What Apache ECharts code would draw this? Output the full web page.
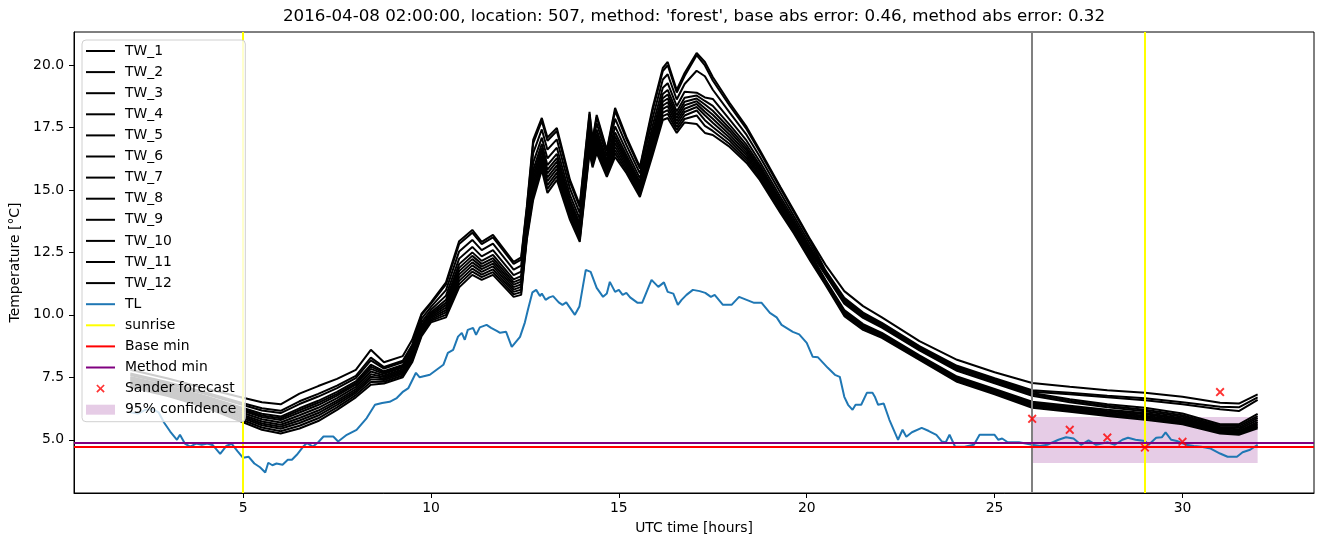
<!DOCTYPE html>
<html><head><meta charset="utf-8">
<script src="https://cdn.jsdelivr.net/npm/echarts@6/dist/echarts.min.js"></script>
<style>html,body{margin:0;padding:0;background:#fff}#c{width:1324px;height:547px}</style>
</head><body><div id="c"></div>
<script>
// ---------------- data ----------------
const titleText = "2016-04-08 02:00:00, location: 507, method: 'forest', base abs error: 0.46, method abs error: 0.32";
const xTicks = [5, 10, 15, 20, 25, 30];
const yTicks = [5, 7.5, 10, 12.5, 15, 17.5, 20];

const xTW = [2, 3, 4, 5, 5.5, 6, 6.5, 7, 7.5, 8,
 8.4, 8.75, 9.25, 9.5, 9.75, 10, 10.4, 10.75, 11.1, 11.35,
 11.65, 12.2, 12.4, 12.55, 12.72, 12.95, 13.1, 13.35, 13.7, 13.96,
 14.22, 14.3, 14.41, 14.68, 14.9, 15.2, 15.56, 15.9, 16.17, 16.3,
 16.54, 16.75, 17.07, 17.29, 17.5, 17.95, 18.4, 18.75, 19.3, 19.65,
 20.1, 20.5, 21, 21.5, 22, 23, 24, 25, 26, 27,
 28, 29, 30, 31, 31.5, 32];

const tw1 = [7.8, 7.45, 7.05, 6.68, 6.5, 6.42, 6.85, 7.15, 7.44, 7.8,
 8.6, 8.1, 8.35, 9.0, 10.05, 10.5, 11.3, 12.95, 13.4, 12.92,
 13.2, 12.12, 12.3, 14.32, 17.0, 17.88, 17.1, 17.48, 15.4, 14.4,
 18.12, 17.0, 18.0, 16.6, 18.28, 17.12, 15.92, 18.3, 19.88, 20.12,
 19.0, 19.68, 20.48, 20.12, 19.52, 18.48, 17.52, 16.6, 15.12, 14.2,
 13.0, 12.0, 10.95, 10.35, 9.9, 8.95, 8.2, 7.7, 7.27, 7.12,
 6.98, 6.88, 6.72, 6.48, 6.45, 6.82];
const tw2 = [7.65, 7.3, 6.89, 6.46, 6.26, 6.16, 6.54, 6.84, 7.17, 7.56,
 8.29, 7.91, 8.16, 8.8, 10.0, 10.45, 11.22, 12.84, 13.29, 12.83,
 13.1, 12.04, 12.21, 14.24, 16.86, 17.76, 16.97, 17.36, 15.3, 14.31,
 18.02, 16.93, 17.91, 16.54, 18.16, 17.03, 15.85, 18.19, 19.76, 19.99,
 18.9, 19.56, 20.39, 19.98, 19.38, 18.37, 17.43, 16.53, 15.06, 14.14,
 12.95, 11.78, 10.68, 10.09, 9.68, 8.75, 7.96, 7.46, 6.98, 6.88,
 6.76, 6.66, 6.5, 6.32, 6.3, 6.7];
const tw3 = [7.59, 7.24, 6.83, 6.39, 6.17, 6.07, 6.43, 6.73, 7.07, 7.47,
 8.18, 7.85, 8.1, 8.73, 9.85, 10.32, 10.99, 12.54, 13.0, 12.59,
 12.85, 11.81, 11.97, 14.03, 16.47, 17.42, 16.61, 17.02, 15.05, 14.07,
 17.76, 16.76, 17.67, 16.36, 17.85, 16.8, 15.66, 17.88, 19.42, 19.63,
 18.62, 19.24, 19.77, 19.55, 19.01, 18.09, 17.2, 16.34, 14.89, 13.98,
 12.81, 11.74, 10.62, 10.04, 9.63, 8.7, 7.91, 7.41, 6.92, 6.82,
 6.7, 6.58, 6.42, 6.22, 6.15, 6.6];
const tw4 = [7.51, 7.16, 6.74, 6.27, 6.04, 5.93, 6.26, 6.56, 6.92, 7.34,
 8.01, 7.74, 7.99, 8.62, 9.71, 10.2, 10.77, 12.25, 12.72, 12.34,
 12.59, 11.59, 11.73, 13.82, 16.09, 17.09, 16.26, 16.69, 14.79, 13.84,
 17.5, 16.58, 17.42, 16.19, 17.54, 16.57, 15.46, 17.58, 19.09, 19.27,
 18.35, 18.93, 18.89, 18.7, 18.64, 17.81, 16.97, 16.14, 14.72, 13.85,
 12.68, 11.69, 10.56, 9.98, 9.58, 8.66, 7.86, 7.36, 6.87, 6.62,
 6.42, 6.28, 6.05, 5.62, 5.62, 6.04];
const tw5 = [7.46, 7.11, 6.69, 6.21, 5.97, 5.86, 6.18, 6.48, 6.84, 7.27,
 7.93, 7.69, 7.94, 8.57, 9.6, 10.1, 10.6, 12.03, 12.5, 12.16,
 12.4, 11.42, 11.55, 13.66, 15.8, 16.84, 15.99, 16.44, 14.6, 13.66,
 17.31, 16.45, 17.24, 16.06, 17.3, 16.4, 15.32, 17.35, 18.84, 19.0,
 18.14, 18.69, 18.78, 18.56, 18.36, 17.6, 16.8, 16.0, 14.6, 13.74,
 12.58, 11.64, 10.5, 9.92, 9.53, 8.61, 7.8, 7.3, 6.82, 6.56,
 6.36, 6.2, 5.98, 5.56, 5.55, 5.95];
const tw6 = [7.42, 7.07, 6.65, 6.15, 5.91, 5.79, 6.09, 6.39, 6.77, 7.21,
 7.84, 7.64, 7.89, 8.51, 9.53, 10.04, 10.49, 11.88, 12.36, 12.04,
 12.27, 11.31, 11.43, 13.55, 15.61, 16.67, 15.81, 16.27, 14.47, 13.54,
 17.18, 16.36, 17.12, 15.97, 17.14, 16.28, 15.22, 17.2, 18.67, 18.82,
 18.0, 18.53, 18.66, 18.42, 18.17, 17.46, 16.68, 15.9, 14.52, 13.67,
 12.51, 11.6, 10.45, 9.88, 9.49, 8.58, 7.76, 7.26, 6.76, 6.5,
 6.3, 6.14, 5.92, 5.51, 5.48, 5.88];
const tw7 = [7.37, 7.02, 6.59, 6.07, 5.82, 5.69, 5.98, 6.28, 6.67, 7.12,
 7.73, 7.57, 7.82, 8.44, 9.47, 9.98, 10.39, 11.75, 12.23, 11.93,
 12.16, 11.21, 11.33, 13.46, 15.44, 16.53, 15.66, 16.13, 14.36, 13.44,
 17.07, 16.29, 17.01, 15.9, 17.01, 16.18, 15.14, 17.07, 18.53, 18.66,
 17.88, 18.39, 18.55, 18.27, 18.01, 17.34, 16.58, 15.82, 14.44, 13.6,
 12.45, 11.39, 10.19, 9.63, 9.28, 8.38, 7.53, 7.03, 6.52, 6.36,
 6.2, 6.07, 5.86, 5.46, 5.42, 5.8];
const tw8 = [7.31, 6.96, 6.53, 5.99, 5.73, 5.6, 5.87, 6.17, 6.57, 7.03,
 7.62, 7.51, 7.76, 8.37, 9.4, 9.92, 10.29, 11.62, 12.1, 11.83,
 12.05, 11.11, 11.22, 13.37, 15.27, 16.38, 15.5, 15.98, 14.25, 13.33,
 16.95, 16.21, 16.91, 15.82, 16.87, 16.08, 15.06, 16.93, 18.38, 18.51,
 17.76, 18.25, 18.44, 18.13, 17.85, 17.21, 16.48, 15.74, 14.37, 13.54,
 12.39, 11.35, 10.14, 9.58, 9.24, 8.34, 7.49, 6.99, 6.47, 6.31,
 6.15, 6.02, 5.81, 5.42, 5.36, 5.72];
const tw9 = [7.26, 6.91, 6.47, 5.93, 5.65, 5.52, 5.77, 6.07, 6.49, 6.95,
 7.52, 7.45, 7.7, 8.31, 9.34, 9.87, 10.19, 11.49, 11.98, 11.72,
 11.94, 11.01, 11.12, 13.28, 15.1, 16.24, 15.35, 15.84, 14.14, 13.23,
 16.84, 16.13, 16.8, 15.75, 16.73, 15.98, 14.97, 16.8, 18.24, 18.35,
 17.64, 18.12, 18.32, 17.99, 17.69, 17.09, 16.38, 15.65, 14.3, 13.47,
 12.33, 11.32, 10.1, 9.54, 9.2, 8.31, 7.45, 6.95, 6.42, 6.26,
 6.1, 5.96, 5.76, 5.38, 5.32, 5.65];
const tw10 = [7.21, 6.86, 6.42, 5.86, 5.58, 5.44, 5.67, 5.97, 6.4, 6.88,
 7.42, 7.39, 7.64, 8.24, 9.28, 9.81, 10.1, 11.36, 11.85, 11.61,
 11.82, 10.92, 11.01, 13.18, 14.94, 16.09, 15.19, 15.69, 14.02, 13.13,
 16.73, 16.05, 16.69, 15.67, 16.59, 15.88, 14.89, 16.67, 18.09, 18.19,
 17.52, 17.98, 18.18, 17.79, 17.52, 16.97, 16.28, 15.57, 14.23, 13.41,
 12.27, 11.29, 10.06, 9.5, 9.17, 8.28, 7.42, 6.92, 6.38, 6.22,
 6.05, 5.91, 5.71, 5.34, 5.28, 5.58];
const tw11 = [7.16, 6.81, 6.36, 5.78, 5.49, 5.34, 5.56, 5.86, 6.3, 6.79,
 7.31, 7.32, 7.57, 8.17, 9.21, 9.76, 10.0, 11.23, 11.73, 11.51,
 11.71, 10.82, 10.91, 13.09, 14.77, 15.95, 15.04, 15.55, 13.91, 13.02,
 16.61, 15.98, 16.59, 15.6, 16.46, 15.78, 14.8, 16.53, 17.95, 18.04,
 17.4, 17.84, 17.98, 17.56, 17.36, 16.84, 16.18, 15.48, 14.15, 13.34,
 12.21, 11.25, 10.01, 9.46, 9.13, 8.25, 7.37, 6.87, 6.33, 6.17,
 6.0, 5.86, 5.66, 5.3, 5.24, 5.52];
const tw12 = [7.1, 6.75, 6.3, 5.7, 5.4, 5.25, 5.45, 5.75, 6.2, 6.7,
 7.2, 7.25, 7.5, 8.1, 9.15, 9.7, 9.9, 11.1, 11.6, 11.4,
 11.6, 10.72, 10.8, 13.0, 14.6, 15.8, 14.88, 15.4, 13.8, 12.92,
 16.5, 15.9, 16.48, 15.52, 16.32, 15.68, 14.72, 16.4, 17.8, 17.88,
 17.28, 17.7, 17.64, 17.28, 17.2, 16.72, 16.08, 15.4, 14.08, 13.28,
 12.15, 11.2, 9.95, 9.4, 9.08, 8.2, 7.32, 6.82, 6.28, 6.12,
 5.95, 5.8, 5.62, 5.25, 5.2, 5.46];

const tlX = [2.0,2.2,2.4,2.6,2.75,2.9,3.06,3.24,3.32,3.45,
 3.59,3.75,3.9,4.05,4.2,4.39,4.55,4.7,4.85,5.0,
 5.15,5.3,5.45,5.59,5.67,5.78,5.89,6.05,6.19,6.3,
 6.43,6.6,6.7,6.86,7.0,7.14,7.4,7.53,7.76,8.02,
 8.29,8.51,8.7,8.9,9.09,9.26,9.4,9.6,9.7,9.97,
 10.15,10.33,10.45,10.59,10.72,10.82,10.9,10.98,11.12,11.2,
 11.3,11.48,11.6,11.75,11.84,12.0,12.15,12.37,12.5,12.58,
 12.7,12.8,12.9,12.95,13.05,13.15,13.25,13.4,13.5,13.6,
 13.83,13.95,14.05,14.12,14.25,14.41,14.58,14.68,14.76,14.9,
 15.0,15.1,15.2,15.3,15.5,15.62,15.87,16.05,16.2,16.3,
 16.45,16.57,16.67,16.8,16.97,17.15,17.3,17.45,17.55,17.77,
 18.0,18.2,18.4,18.6,18.8,19.02,19.2,19.33,19.63,19.8,
 20.0,20.16,20.3,20.56,20.75,20.88,21.0,21.1,21.22,21.3,
 21.45,21.6,21.75,21.82,21.9,22.05,22.2,22.43,22.55,22.65,
 22.8,23.06,23.25,23.45,23.6,23.7,23.8,23.95,24.2,24.45,
 24.6,25.0,25.1,25.2,25.35,25.65,26.0,26.2,26.4,26.7,
 26.9,27.1,27.3,27.5,27.7,28.0,28.2,28.4,28.55,28.75,
 29.0,29.1,29.3,29.45,29.55,29.7,29.85,30.1,30.3,30.5,
 30.75,31.0,31.2,31.45,31.6,31.8,32.0];
const tlY = [6.1,6.05,6.2,6.22,6.1,5.68,5.33,5.0,5.2,4.85,
 4.73,4.85,4.8,4.85,4.78,4.44,4.75,4.84,4.55,4.28,
 4.32,4.05,3.9,3.69,4.08,3.98,4.05,4.0,4.2,4.2,
 4.4,4.73,4.87,4.73,4.9,5.13,5.13,4.93,5.2,5.4,
 5.87,6.4,6.47,6.52,6.67,6.93,7.07,7.68,7.5,7.6,
 7.8,8.0,8.48,8.6,9.13,9.28,9.0,9.4,9.48,9.2,
 9.5,9.6,9.48,9.36,9.28,9.32,8.72,9.12,9.7,10.2,
 10.9,11.0,10.75,10.85,10.6,10.7,10.75,10.5,10.4,10.5,
 10.0,10.33,11.2,11.8,11.72,11.08,10.72,10.85,11.32,10.92,
 11.0,10.8,10.88,10.7,10.48,10.48,11.4,11.12,11.3,10.92,
 10.85,10.4,10.6,10.8,11.0,10.95,10.88,10.72,10.8,10.4,
 10.4,10.72,10.6,10.48,10.48,10.08,9.9,9.6,9.32,9.22,
 8.88,8.32,8.3,7.88,7.6,7.52,6.72,6.4,6.2,6.4,
 6.4,6.88,6.88,6.7,6.4,6.45,5.8,5.0,5.4,5.12,
 5.3,5.48,5.35,5.2,4.93,4.9,5.2,4.72,4.72,4.8,
 5.2,5.2,5.0,5.05,4.9,4.9,4.8,4.75,4.8,5.0,
 5.1,5.05,4.8,4.98,4.8,4.9,4.8,5.0,5.08,5.0,
 4.95,4.8,5.08,5.1,5.3,5.0,4.95,4.8,4.75,4.72,
 4.65,4.45,4.32,4.32,4.5,4.6,4.8];

const sunriseX = [5, 29];
const forecastStartX = 26;
const baseMin = 4.73;
const methodMin = 4.89;
const sanderX = [26, 27, 28, 29, 30, 31];
const sanderY = [5.84, 5.4, 5.09, 4.69, 4.92, 6.91];
const confX = [26, 32];
const confLow = 4.07;
const confHigh = 5.91;

// ---------------- chart ----------------
const FONT = 'DejaVu Sans';
const FS = 13.9;
function pairs(xs, ys) {
  const n = Math.min(xs.length, ys.length), out = [];
  for (let i = 0; i < n; i++) out.push([xs[i], ys[i]]);
  return out;
}
const twAll = [tw1, tw2, tw3, tw4, tw5, tw6, tw7, tw8, tw9, tw10, tw11, tw12];
const X_PATH = 'path://M0,1.2L1.2,0L4,2.8L6.8,0L8,1.2L5.2,4L8,6.8L6.8,8L4,5.2L1.2,8L0,6.8L2.8,4Z';
const ICON_LINE = 'path://M0,0M34,14M0,6H29V8H0Z';
const ICON_X = 'path://M0,0M34,14M10.3,4L11.5,2.8L14.5,5.8L17.5,2.8L18.7,4L15.7,7L18.7,10L17.5,11.2L14.5,8.2L11.5,11.2L10.3,10L13.3,7Z';
const ICON_PATCH = 'path://M0,0M34,14M0,2H29V12H0Z';

const series = [];
series.push({
  name: '95% confidence', type: 'line', data: [], color: 'rgba(128,0,128,0.2)',
  markArea: { silent: true, z: 1, itemStyle: { color: 'rgba(128,0,128,0.2)' },
    data: [[{ xAxis: confX[0], yAxis: confLow }, { xAxis: confX[1], yAxis: confHigh }]] }
});
twAll.forEach((v, i) => series.push({
  name: 'TW_' + (i + 1), type: 'line', data: pairs(xTW, v), showSymbol: false, symbol: 'none',
  color: '#000000', lineStyle: { width: 2, color: '#000000' }, z: 2
}));
series.push({
  name: 'TL', type: 'line', data: pairs(tlX, tlY), showSymbol: false, symbol: 'none',
  color: '#1f77b4', lineStyle: { width: 2, color: '#1f77b4' }, z: 2
});
function mline(name, color, data) {
  return { name: name, type: 'line', data: [], color: color,
    markLine: { silent: true, symbol: ['none', 'none'], label: { show: false },
      lineStyle: { color: color, width: 2, type: 'solid' }, data: data } };
}
series.push(mline('sunrise', '#ffff00', sunriseX.map(x => ({ xAxis: x }))));
series.push(mline('forecast start', '#808080', [{ xAxis: forecastStartX }]));
series.push(mline('Base min', '#ff0000', [{ yAxis: baseMin }]));
series.push(mline('Method min', '#800080', [{ yAxis: methodMin }]));
series.push({
  name: 'Sander forecast', type: 'scatter', data: pairs(sanderX, sanderY),
  symbol: X_PATH, symbolSize: 9, color: '#ff0000', z: 6
});

const legendNames = ['TW_1','TW_2','TW_3','TW_4','TW_5','TW_6','TW_7','TW_8','TW_9','TW_10','TW_11','TW_12','TL','sunrise','Base min','Method min','Sander forecast','95% confidence'];
const legendData = legendNames.map(n => ({
  name: n,
  icon: n === 'Sander forecast' ? ICON_X : (n === '95% confidence' ? ICON_PATCH : ICON_LINE)
}));

const axisFont = { color: '#000', fontFamily: FONT, fontSize: FS };
const option = {
  animation: false,
  backgroundColor: '#ffffff',
  grid: { left: 74, right: 10, top: 32, bottom: 54, show: true, borderColor: '#000', borderWidth: 1, backgroundColor: 'transparent' },
  graphic: [{
    type: 'text', x: 694, y: 17,
    style: { text: titleText, font: '16.7px "DejaVu Sans"', fill: '#000', align: 'center', verticalAlign: 'middle', textAlign: 'center', textVerticalAlign: 'middle' }
  }],
  xAxis: {
    type: 'value', min: 0.5, max: 33.5,
    name: 'UTC time [hours]', nameLocation: 'middle', nameGap: 28, nameTextStyle: axisFont,
    axisLine: { show: true, onZero: false, lineStyle: { color: '#000', width: 1 } },
    axisTick: { show: true, length: 5, lineStyle: { color: '#000', width: 1 }, customValues: xTicks },
    axisLabel: Object.assign({ customValues: xTicks, margin: 8, formatter: v => String(v) }, axisFont),
    splitLine: { show: false }
  },
  yAxis: {
    type: 'value', min: 2.87, max: 21.32,
    name: 'Temperature [°C]', nameLocation: 'middle', nameGap: 50, nameTextStyle: axisFont,
    axisLine: { show: true, onZero: false, lineStyle: { color: '#000', width: 1 } },
    axisTick: { show: true, length: 5, lineStyle: { color: '#000', width: 1 }, customValues: yTicks },
    axisLabel: Object.assign({ customValues: yTicks, margin: 10, formatter: v => Number(v).toFixed(1) }, axisFont),
    splitLine: { show: false }
  },
  legend: {
    orient: 'vertical', left: 82, top: 40, z: 10,
    padding: [4, 9, 5, 4], itemWidth: 34, itemHeight: 14, itemGap: 7.1,
    backgroundColor: 'rgba(255,255,255,0.8)', borderColor: '#d0d0d0', borderWidth: 1, borderRadius: 4,
    textStyle: { color: '#000', fontFamily: FONT, fontSize: FS },
    itemStyle: { borderWidth: 0 },
    selectedMode: false,
    data: legendData
  },
  series: series
};
const chart = echarts.init(document.getElementById('c'), null, { renderer: 'canvas' });
chart.setOption(option);
</script>
</body></html>
